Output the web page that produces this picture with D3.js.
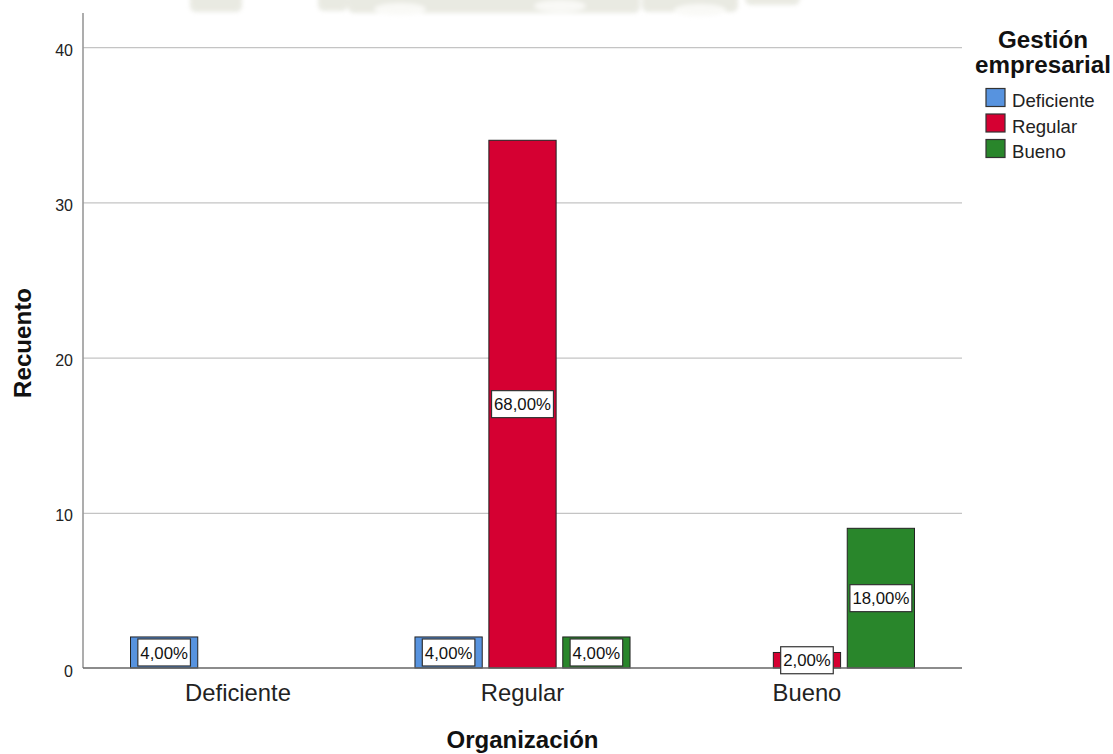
<!DOCTYPE html>
<html>
<head>
<meta charset="utf-8">
<script src="https://cdn.jsdelivr.net/npm/d3@7"></script>
<style>
  html, body { margin: 0; padding: 0; background: #fff; }
  svg { display: block; font-family: "Liberation Sans", Arial, sans-serif; }
</style>
</head>
<body>
<svg id="chart" width="1113" height="754"></svg>
<script>
// Organización (x clusters) by Gestión empresarial (series), counts
const categories = ["Deficiente", "Regular", "Bueno"];
const seriesNames = ["Deficiente", "Regular", "Bueno"];
const countDeficiente = [2, 2, 0];
const countRegular = [0, 34, 1];
const countBueno = [0, 2, 9];
const seriesColors = ["#5793df", "#d50032", "#29862b"];
const yTicks = [0, 10, 20, 30, 40];

const seriesCounts = [countDeficiente, countRegular, countBueno];
const total = d3.sum(seriesCounts.flat());

const svg = d3.select("#chart");

// faint watermark strip along the top edge
const defs = svg.append("defs");
defs.append("filter").attr("id", "soft")
  .attr("x", "-20%").attr("y", "-100%").attr("width", "140%").attr("height", "300%")
  .append("feGaussianBlur").attr("stdDeviation", 2.2);
const wm = svg.append("g").attr("opacity", 0.5).attr("filter", "url(#soft)");
const wmShapes = [
  [190, 242, 12], [318, 348, 11], [348, 640, 13], [642, 738, 12], [745, 800, 5]
];
wm.selectAll("rect").data(wmShapes).join("rect")
  .attr("x", d => d[0]).attr("y", -8)
  .attr("width", d => d[1] - d[0]).attr("height", d => d[2] + 8)
  .attr("rx", 6)
  .attr("fill", "#d4d6c6");
wm.selectAll("ellipse").data([[400, 9], [560, 6], [700, 10]]).join("ellipse")
  .attr("cx", d => d[0]).attr("cy", d => d[1]).attr("rx", 26).attr("ry", 6)
  .attr("fill", "#f4f4ee");

const plot = { left: 83, right: 962, top: 13, bottom: 668 };

const y = d3.scaleLinear().domain([0, 42.2]).range([plot.bottom, plot.top]);

const x0 = d3.scaleBand().domain(categories)
  .range([plot.left, plot.right]).paddingInner(0).paddingOuter(0.045);

const clusterW = x0.bandwidth() * 0.756;
const x1 = d3.scaleBand().domain(seriesNames)
  .range([(x0.bandwidth() - clusterW) / 2, (x0.bandwidth() + clusterW) / 2])
  .paddingInner(0.09).paddingOuter(0);

// gridlines
const grid = svg.append("g")
  .attr("transform", `translate(${plot.left},0)`)
  .call(d3.axisLeft(y).tickValues(yTicks.filter(t => t > 0)).tickSize(-(plot.right - plot.left)).tickFormat(""));
grid.select(".domain").remove();
grid.selectAll("line").attr("stroke", "#c4c4c4").attr("stroke-width", 1.3);

// y axis labels
const yAxis = svg.append("g")
  .attr("transform", `translate(${plot.left},0)`)
  .call(d3.axisLeft(y).tickValues(yTicks).tickSize(0).tickPadding(10));
yAxis.attr("font-size", null).attr("font-family", null);
yAxis.select(".domain").remove();
yAxis.selectAll("text")
  .style("font-size", "16px").attr("fill", "#222")
  .style("font-family", "'Liberation Sans', Arial, sans-serif")
  .attr("dy", "0.5em");

// y axis line
svg.append("line")
  .attr("x1", plot.left).attr("x2", plot.left)
  .attr("y1", plot.top).attr("y2", plot.bottom)
  .attr("stroke", "#999").attr("stroke-width", 1.6);

// bars
const barData = [];
categories.forEach((c, ci) => {
  seriesNames.forEach((s, si) => {
    const v = seriesCounts[si][ci];
    if (v > 0) barData.push({ cat: c, series: s, si, value: v });
  });
});

const bars = svg.append("g");
bars.selectAll("rect").data(barData).join("rect")
  .attr("x", d => x0(d.cat) + x1(d.series))
  .attr("y", d => y(d.value))
  .attr("width", x1.bandwidth())
  .attr("height", d => y(0) - y(d.value))
  .attr("fill", d => seriesColors[d.si])
  .attr("stroke", "#222")
  .attr("stroke-width", 1);

// baseline
svg.append("line")
  .attr("x1", plot.left).attr("x2", plot.right)
  .attr("y1", plot.bottom).attr("y2", plot.bottom)
  .attr("stroke", "#666").attr("stroke-width", 1.4);

// percentage labels in white boxes
const fmtPct = v => (v / total * 100).toFixed(2).replace(".", ",") + "%";
const labels = svg.append("g");
barData.forEach(d => {
  const cx = x0(d.cat) + x1(d.series) + x1.bandwidth() / 2;
  const cy = (y(d.value) + y(0)) / 2;
  const g = labels.append("g");
  const box = g.append("rect");
  const t = g.append("text")
    .attr("x", cx).attr("y", cy)
    .attr("text-anchor", "middle")
    .attr("dy", "0.37em")
    .attr("font-size", 16.8)
    .attr("fill", "#111")
    .text(fmtPct(d.value));
  const w = t.node().getComputedTextLength() + 5;
  const h = 27;
  box.attr("x", cx - w / 2).attr("y", cy - h / 2)
    .attr("width", w).attr("height", h)
    .attr("fill", "#fff").attr("stroke", "#333").attr("stroke-width", 1.2);
});

// category labels
svg.append("g").selectAll("text").data(categories).join("text")
  .attr("x", d => x0(d) + x0.bandwidth() / 2)
  .attr("y", 701)
  .attr("text-anchor", "middle")
  .attr("font-size", 23.8)
  .attr("fill", "#222")
  .text(d => d);

// axis titles
svg.append("text")
  .attr("x", (plot.left + plot.right) / 2).attr("y", 748)
  .attr("text-anchor", "middle")
  .attr("font-size", 24).attr("font-weight", "bold").attr("fill", "#111")
  .text("Organización");

svg.append("text")
  .attr("transform", "translate(31,343) rotate(-90)")
  .attr("text-anchor", "middle")
  .attr("font-size", 24.1).attr("font-weight", "bold").attr("fill", "#111")
  .text("Recuento");

// legend
const legend = svg.append("g");
legend.selectAll("text.title").data(["Gestión", "empresarial"]).join("text")
  .attr("class", "title")
  .attr("x", 1043).attr("y", (d, i) => 48 + i * 25)
  .attr("text-anchor", "middle")
  .attr("font-size", 24.2).attr("font-weight", "bold").attr("fill", "#111")
  .text(d => d);

const items = legend.selectAll("g.item").data(seriesNames).join("g")
  .attr("class", "item")
  .attr("transform", (d, i) => `translate(986,${88.5 + i * 25.5})`);
items.append("rect")
  .attr("width", 19).attr("height", 18)
  .attr("fill", (d, i) => seriesColors[i])
  .attr("stroke", "#333").attr("stroke-width", 1.2);
items.append("text")
  .attr("x", 26).attr("y", 18.5)
  .attr("font-size", 18.6).attr("fill", "#222")
  .text(d => d);
</script>
</body>
</html>
